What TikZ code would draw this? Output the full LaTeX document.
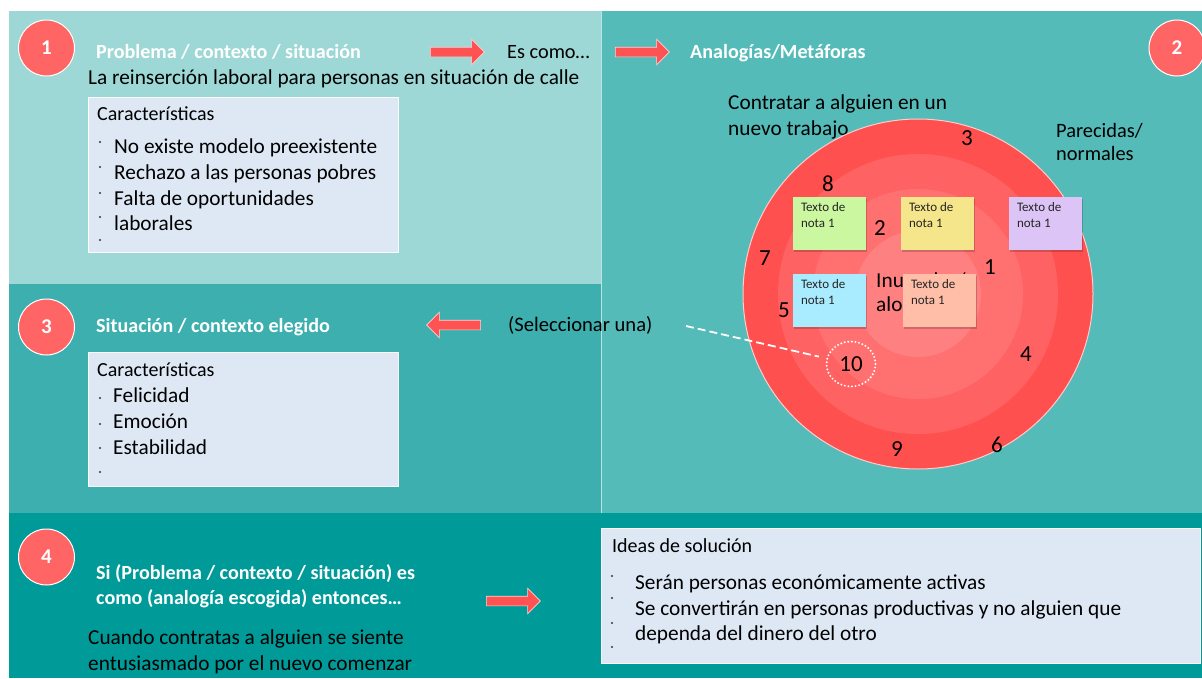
\documentclass[tikz,border=0pt]{standalone}
\usepackage{fontspec}
\setmainfont{Carlito}
\usetikzlibrary{shapes.arrows,shapes.geometric}
\definecolor{pone}{RGB}{157,216,214}
\definecolor{ptwo}{RGB}{85,187,185}
\definecolor{pthree}{RGB}{62,175,175}
\definecolor{pfour}{RGB}{0,154,153}
\definecolor{boxc}{RGB}{222,232,244}
\definecolor{numred}{RGB}{255,101,101}
\definecolor{arrred}{RGB}{255,82,82}
\definecolor{ringa}{RGB}{255,80,80}
\definecolor{ringb}{RGB}{255,98,98}
\definecolor{ringc}{RGB}{255,113,113}
\definecolor{ringd}{RGB}{255,128,128}
\definecolor{ngreen}{RGB}{203,247,160}
\definecolor{nyellow}{RGB}{245,230,140}
\definecolor{npurple}{RGB}{220,196,246}
\definecolor{nblue}{RGB}{170,236,255}
\definecolor{npeach}{RGB}{255,190,168}
\tikzset{
  numcirc/.style={circle, fill=numred, draw=white, line width=1pt, minimum size=56pt, inner sep=0pt, text=white, font=\bfseries\fontsize{21}{23}\selectfont},
  head/.style={anchor=base west, inner sep=0pt, text=white, font=\bfseries\fontsize{20.1}{23}\selectfont},
  body/.style={anchor=base west, inner sep=0pt, text=black, font=\fontsize{21.3}{24}\selectfont},
  small/.style={anchor=base west, inner sep=0pt, text=black, font=\fontsize{20}{23}\selectfont},
  blockarrow/.style={single arrow, fill=arrred, draw=white!75!arrred, line width=0.6pt, minimum height=54pt, inner xsep=0pt, inner ysep=4.5pt, single arrow head extend=8pt},
  infobox/.style={rectangle, fill=boxc, draw=white!85!boxc, line width=0.5pt, anchor=north west, inner sep=0pt},
  note/.style={rectangle, minimum width=73pt, minimum height=53pt, inner sep=0pt},
  notetext/.style={anchor=north west, inner sep=0pt, align=left, text=black!85, font=\fontsize{13}{16}\selectfont},
  ringnum/.style={inner sep=0pt, text=black, font=\fontsize{23}{25}\selectfont},
  bul/.style={circle, fill=black!80, inner sep=0pt, minimum size=2.2pt},
}
\begin{document}
\begin{tikzpicture}[x=1pt,y=-1pt]
\useasboundingbox (0,0) rectangle (1202,678);
\fill[white] (0,0) rectangle (1202,678);
% panels
\fill[pone] (9,11) rectangle (601,284);
\fill[ptwo] (601,11) rectangle (1202,513);
\fill[pthree] (9,284) rectangle (601,513);
\fill[pfour] (9,513) rectangle (1202,678);
\draw[white!60!ptwo, line width=1pt] (601,11) -- (601,513);

% ---------- panel 1
\node[numcirc] (c1) at (46.5,48) {1};
\node[head] (h1) at (96,58) {Problema / contexto / situación};
\node[blockarrow] (a1) at (455,52) {};
\node[body, font=\fontsize{20.3}{23}\selectfont] (escomo) at (507,58) {Es como…};
\node[blockarrow] (a2) at (640,52) {};
\node[body] (reins) at (88,84) {La reinserción laboral para personas en situación de calle};
\node[infobox, minimum width=310pt, minimum height=155pt] (box1) at (88,97) {};
\node[small] (car1) at (97,120) {Características};
\node[body] (b11) at (114,153) {No existe modelo preexistente};
\node[body] (b12) at (114,179) {Rechazo a las personas pobres};
\node[body] (b13) at (114,205) {Falta de oportunidades};
\node[body] (b14) at (114,230) {laborales};
\node[bul] at (100,142) {};
\node[bul] at (100,167) {};
\node[bul] at (100,193) {};
\node[bul] at (100,217) {};
\node[bul] at (100,240) {};

% ---------- panel 2
\node[head] (h2) at (690,58) {Analogías/Metáforas};
\node[numcirc] (c2) at (1177,48) {2};
\node[body] (contr1) at (728,109) {Contratar a alguien en un};
\node[body] (contr2) at (728,135) {nuevo trabajo};
\node[body, font=\fontsize{20.4}{23}\selectfont] (par1) at (1056,137) {Parecidas/};
\node[body, font=\fontsize{20.4}{23}\selectfont] (par2) at (1056,160) {normales};

% target
\node[circle, fill=ringa, draw=white!70!ringa, line width=1pt, minimum size=350pt, inner sep=0pt] (r1) at (918,294) {};
\node[circle, fill=ringb, minimum size=280pt, inner sep=0pt] (r2) at (r1.center) {};
\node[circle, fill=ringc, minimum size=210pt, inner sep=0pt] (r3) at (r1.center) {};
\node[circle, fill=ringd, minimum size=126pt, inner sep=0pt] (r4) at (r1.center) {};

\node[body] (inus1) at (876,287) {Inusuales/};
\node[body] (inus2) at (876,311) {alocadas};

% notes
\foreach \nm/\cx/\cy/\col in {ng/829.5/223.5/ngreen, ny/937.5/223.5/nyellow, np/1045.5/223.5/npurple, nb/829.5/300.5/nblue, npc/939.5/300.5/npeach}{
  \fill[black, opacity=0.18] (\cx-35.5,\cy-24.5) rectangle (\cx+37.5,\cy+28.5);
  \node[note, fill=\col] (\nm) at (\cx,\cy) {};
  \node[notetext] at ([xshift=8pt,yshift=-5pt]\nm.north west) {Texto de\\nota 1};
}

\node[ringnum] (n3) at (967,138) {3};
\node[ringnum] (n8) at (828,184) {8};
\node[ringnum] (n2) at (880,228) {2};
\node[ringnum] (n7) at (765,258) {7};
\node[ringnum] (n1) at (990,267) {1};
\node[ringnum] (n5) at (784,310) {5};
\node[ringnum] (n4) at (1026,354) {4};
\node[ringnum] (n9) at (897,449) {9};
\node[ringnum] (n6) at (997,445) {6};
\node[ellipse, draw=white, line width=2.2pt, dash pattern=on 0pt off 3.6pt, line cap=round, minimum width=49pt, minimum height=45pt, inner sep=0pt, font=\fontsize{23}{25}\selectfont] (ten) at (851,364) {10};

% ---------- panel 3
\node[numcirc] (c3) at (46.5,327) {3};
\node[head] (h3) at (96,332) {Situación / contexto elegido};
\node[blockarrow, shape border rotate=180] (a3) at (456,325) {};
\node[body, font=\fontsize{20.6}{23}\selectfont] (sel) at (508,331) {(Seleccionar una)};
\coordinate (selc) at (686,326);
\draw[white, line width=1.8pt, dash pattern=on 8pt off 4pt, shorten >=33pt] (selc) -- (ten.center);
\node[infobox, minimum width=310pt, minimum height=134pt] (box3) at (88,352) {};
\node[small] (car3) at (97,376) {Características};
\node[body] (b31) at (113,402) {Felicidad};
\node[body] (b32) at (113,428) {Emoción};
\node[body] (b33) at (113,454) {Estabilidad};
\node[bul] at (100,398) {};
\node[bul] at (100,424) {};
\node[bul] at (100,448) {};
\node[bul] at (100,472) {};

% ---------- panel 4
\node[numcirc] (c4) at (46.5,557) {4};
\node[head] (h41) at (96,579) {Si (Problema / contexto / situación) es};
\node[head] (h42) at (96,604) {como (analogía escogida) entonces…};
\node[blockarrow] (a4) at (511,601) {};
\node[body] (cu1) at (88,644) {Cuando contratas a alguien se siente};
\node[body] (cu2) at (88,670) {entusiasmado por el nuevo comenzar};
\node[infobox, minimum width=599pt, minimum height=135pt] (box4) at (601,528) {};
\node[small] (ideas) at (612,552) {Ideas de solución};
\node[body] (s1) at (635,589) {Serán personas económicamente activas};
\node[body] (s2) at (635,615) {Se convertirán en personas productivas y no alguien que};
\node[body] (s3) at (635,640) {dependa del dinero del otro};
\node[bul] at (612,576) {};
\node[bul] at (612,598) {};
\node[bul] at (612,623) {};
\node[bul] at (612,647) {};
\end{tikzpicture}
\end{document}
